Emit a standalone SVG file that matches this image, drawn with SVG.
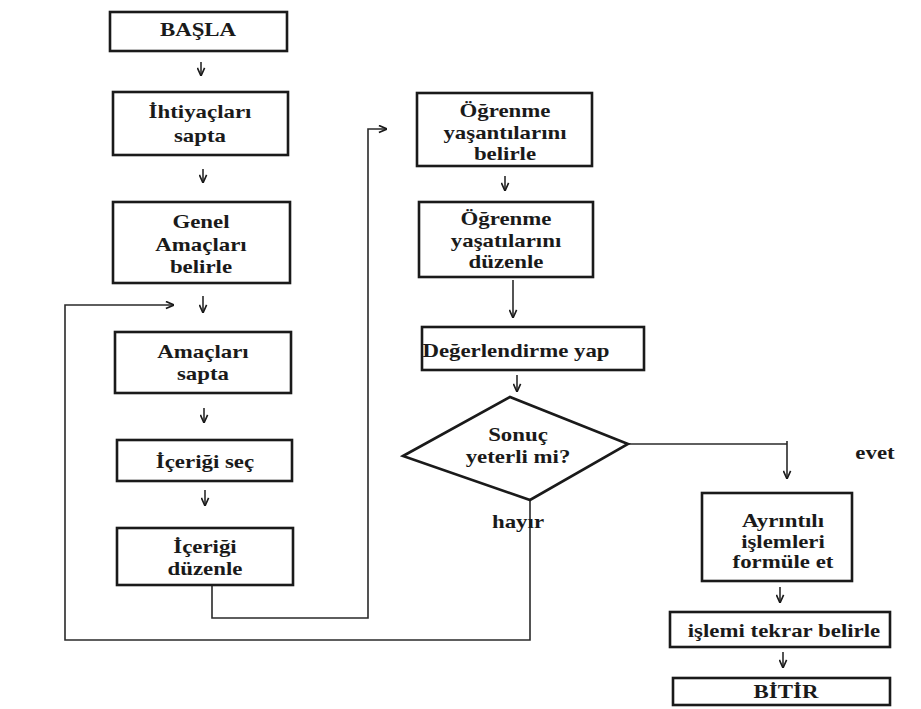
<svg xmlns="http://www.w3.org/2000/svg" width="921" height="709" viewBox="0 0 921 709">
<style>
.box{fill:none;stroke:#1a1a1a;stroke-width:2.6}
.t{font-family:"Liberation Serif","Times New Roman",serif;font-weight:bold;font-size:18px;fill:#1a1a1a;text-anchor:middle}
.c{fill:none;stroke:#2a2a2a;stroke-width:1.6}
</style>
<defs>
<marker id="ah" viewBox="0 0 10 10" refX="10" refY="5" markerWidth="9" markerHeight="9" markerUnits="userSpaceOnUse" orient="auto">
<path d="M1,1 L10,5 L1,9" fill="none" stroke="#1a1a1a" stroke-width="1.8"/>
</marker>
</defs>
<rect width="921" height="709" fill="#ffffff"/>
<g id="connectors">
<line class="c" x1="201" y1="62" x2="201" y2="76" marker-end="url(#ah)"/>
<line class="c" x1="203" y1="169" x2="203" y2="183" marker-end="url(#ah)"/>
<line class="c" x1="203" y1="296" x2="203" y2="313" marker-end="url(#ah)"/>
<line class="c" x1="204" y1="408" x2="204" y2="423" marker-end="url(#ah)"/>
<line class="c" x1="205" y1="490" x2="205" y2="506" marker-end="url(#ah)"/>
<path class="c" d="M212,585 V618 H368 V129 H387" marker-end="url(#ah)"/>
<line class="c" x1="505" y1="176" x2="505" y2="191" marker-end="url(#ah)"/>
<line class="c" x1="513" y1="280" x2="513" y2="318" marker-end="url(#ah)"/>
<line class="c" x1="517" y1="375" x2="517" y2="392" marker-end="url(#ah)"/>
<path class="c" d="M628,444 H787"/>
<line class="c" x1="787" y1="441" x2="787" y2="479" marker-end="url(#ah)"/>
<path class="c" d="M530,500 V640 H65 V305 H174" marker-end="url(#ah)"/>
<text class="t" transform="translate(875,0) scale(1.27,1)" y="459">evet</text>
<text class="t" transform="translate(518,0) scale(1.27,1)" y="528">hayır</text>
<line class="c" x1="780" y1="587" x2="780" y2="603" marker-end="url(#ah)"/>
<line class="c" x1="783" y1="652" x2="783" y2="668" marker-end="url(#ah)"/>
</g>
<g id="basla">
<rect class="box" x="110" y="12" width="177" height="39"/>
<text class="t" transform="translate(198,0) scale(1.27,1)" y="36">BAŞLA</text>
</g>
<g id="ihtiyaclari">
<rect class="box" x="113" y="92" width="175" height="63"/>
<text class="t" transform="translate(200,0) scale(1.27,1)"><tspan x="0" y="118">İhtiyaçları</tspan><tspan x="0" y="142">sapta</tspan></text>
</g>
<g id="genel">
<rect class="box" x="113" y="202" width="177" height="81"/>
<text class="t" transform="translate(201,0) scale(1.27,1)"><tspan x="0" y="228">Genel</tspan><tspan x="0" y="251">Amaçları</tspan><tspan x="0" y="273">belirle</tspan></text>
</g>
<g id="amaclari">
<rect class="box" x="115" y="332" width="176" height="61"/>
<text class="t" transform="translate(203,0) scale(1.27,1)"><tspan x="0" y="358">Amaçları</tspan><tspan x="0" y="380">sapta</tspan></text>
</g>
<g id="icerigisec">
<rect class="box" x="117" y="440" width="175" height="41"/>
<text class="t" transform="translate(205,0) scale(1.27,1)" y="468">İçeriği seç</text>
</g>
<g id="icerigiduzenle">
<rect class="box" x="117" y="528" width="176" height="57"/>
<text class="t" transform="translate(205,0) scale(1.27,1)"><tspan x="0" y="553">İçeriği</tspan><tspan x="0" y="575">düzenle</tspan></text>
</g>
<g id="ogrenme1">
<rect class="box" x="417" y="93" width="175" height="73"/>
<text class="t" transform="translate(505,0) scale(1.27,1)"><tspan x="0" y="117">Öğrenme</tspan><tspan x="0" y="139">yaşantılarını</tspan><tspan x="0" y="160">belirle</tspan></text>
</g>
<g id="ogrenme2">
<rect class="box" x="419" y="202" width="174" height="75"/>
<text class="t" transform="translate(506,0) scale(1.27,1)"><tspan x="0" y="225">Öğrenme</tspan><tspan x="0" y="247">yaşatılarını</tspan><tspan x="0" y="268">düzenle</tspan></text>
</g>
<g id="degerlendirme">
<rect class="box" x="422" y="327" width="222" height="43"/>
<text class="t" transform="translate(516,0) scale(1.27,1)" y="357">Değerlendirme yap</text>
</g>
<g id="sonuc">
<polygon class="box" points="403,456 510,397 628,444 530,500"/>
<text class="t" transform="translate(518,0) scale(1.27,1)"><tspan x="0" y="441">Sonuç</tspan><tspan x="0" y="463">yeterli mi?</tspan></text>
</g>
<g id="ayrintili">
<rect class="box" x="702" y="493" width="150" height="88"/>
<text class="t" transform="translate(783,0) scale(1.27,1)"><tspan x="0" y="527">Ayrıntılı</tspan><tspan x="0" y="548">işlemleri</tspan><tspan x="0" y="568">formüle et</tspan></text>
</g>
<g id="islemi">
<rect class="box" x="670" y="612" width="220" height="35"/>
<text class="t" transform="translate(784,0) scale(1.27,1)" y="637">işlemi tekrar belirle</text>
</g>
<g id="bitir">
<rect class="box" x="673" y="678" width="217" height="27"/>
<text class="t" transform="translate(786,0) scale(1.27,1)" y="698">BİTİR</text>
</g>
</svg>
